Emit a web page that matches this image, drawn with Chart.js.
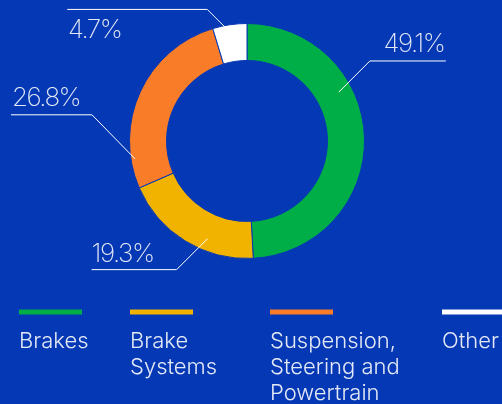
<!doctype html>
<html lang="en">
<head>
<meta charset="UTF-8" />
<title>Share by component</title>
<style>
  html, body { margin: 0; padding: 0; background: #0538b4; }
  #wrap { width: 502px; height: 404px; position: relative; }
</style>
</head>
<body>
<div id="wrap"><canvas id="chart"></canvas></div>

<script src="https://cdn.jsdelivr.net/npm/chart.js@4"></script>
<script>
const categories = [['Brakes'], ['Brake', 'Systems'], ['Suspension,', 'Steering and', 'Powertrain'], ['Other']]
const shares = [49.1, 19.3, 26.8, 4.7]
const colors = ['#00ae48', '#f2b300', '#f97d29', '#ffffff']

const BG = '#0538b4'
const TEXT = '#e3e8f6'

// where each leader line touches its slice (t along the arc, f across the ring)
// and how it runs out to its label
const callouts = [
  { t: 0.35, f: 0.64, dx: 31, dy: -31, run: 76, textDy: -9, align: 'right', tx: -1.5 },
  { t: 0.36, f: 0.67, dx: -31, dy: 31, run: -85, textDy: -7.5, align: 'left', tx: 0 },
  { t: 0.15, f: 0.89, dx: -43, dy: -44, run: -81, textDy: -9, align: 'left', tx: 1 },
  { t: 0.36, f: 0.95, dx: -18, dy: -18, run: -140, textDy: 29, align: 'left', tx: 0.7 },
]

const legendX = [19, 130, 270, 442]

const background = {
  id: 'background',
  beforeDraw(chart) {
    const { ctx, width, height } = chart
    ctx.save()
    ctx.fillStyle = BG
    ctx.fillRect(0, 0, width, height)
    ctx.restore()
  },
}

const leaderLabels = {
  id: 'leaderLabels',
  afterDatasetsDraw(chart) {
    const { ctx } = chart
    const meta = chart.getDatasetMeta(0)
    meta.data.forEach((arc, i) => {
      const c = callouts[i]
      const p = arc.getProps(['x', 'y', 'startAngle', 'endAngle', 'innerRadius', 'outerRadius'])
      const a = p.startAngle + c.t * (p.endAngle - p.startAngle)
      const r = p.innerRadius + c.f * (p.outerRadius - p.innerRadius)
      const ax = p.x + Math.cos(a) * r
      const ay = p.y + Math.sin(a) * r
      const ex = ax + c.dx
      const ey = ay + c.dy
      const lx = ex + c.run

      ctx.save()
      ctx.strokeStyle = '#ffffff'
      ctx.lineWidth = 1
      ctx.beginPath()
      ctx.moveTo(ax, ay)
      ctx.lineTo(ex, ey)
      ctx.lineTo(lx, ey)
      ctx.stroke()

      ctx.fillStyle = TEXT
      ctx.font = '200 26px Inter'
      ctx.letterSpacing = '-1.5px'
      ctx.textAlign = c.align
      ctx.textBaseline = 'alphabetic'
      ctx.fillText(shares[i].toFixed(1) + '%', lx + c.tx, ey + c.textDy)
      ctx.restore()
    })
  },
}

const lineLegend = {
  id: 'lineLegend',
  afterDraw(chart) {
    const { ctx } = chart
    ctx.save()
    categories.forEach((lines, i) => {
      const x = legendX[i]
      ctx.fillStyle = colors[i]
      ctx.fillRect(x, 309.5, 63, 5)
      ctx.fillStyle = TEXT
      ctx.font = '300 22px Inter'
      ctx.textAlign = 'left'
      ctx.textBaseline = 'alphabetic'
      lines.forEach((line, j) => {
        ctx.fillText(line, x, 348.3 + j * 26)
      })
    })
    ctx.restore()
  },
}

new Chart(document.getElementById('chart'), {
  type: 'doughnut',
  data: {
    labels: categories,
    datasets: [{
      data: shares,
      backgroundColor: colors,
      borderColor: BG,
      borderWidth: 1,
    }],
  },
  options: {
    responsive: true,
    maintainAspectRatio: false,
    animation: false,
    events: [],
    cutout: '68.5%',
    layout: { padding: { left: 129, right: 137, top: 23, bottom: 145 } },
    plugins: {
      legend: { display: false },
      tooltip: { enabled: false },
    },
  },
  plugins: [background, leaderLabels, lineLegend],
})
</script>
</body>
</html>
